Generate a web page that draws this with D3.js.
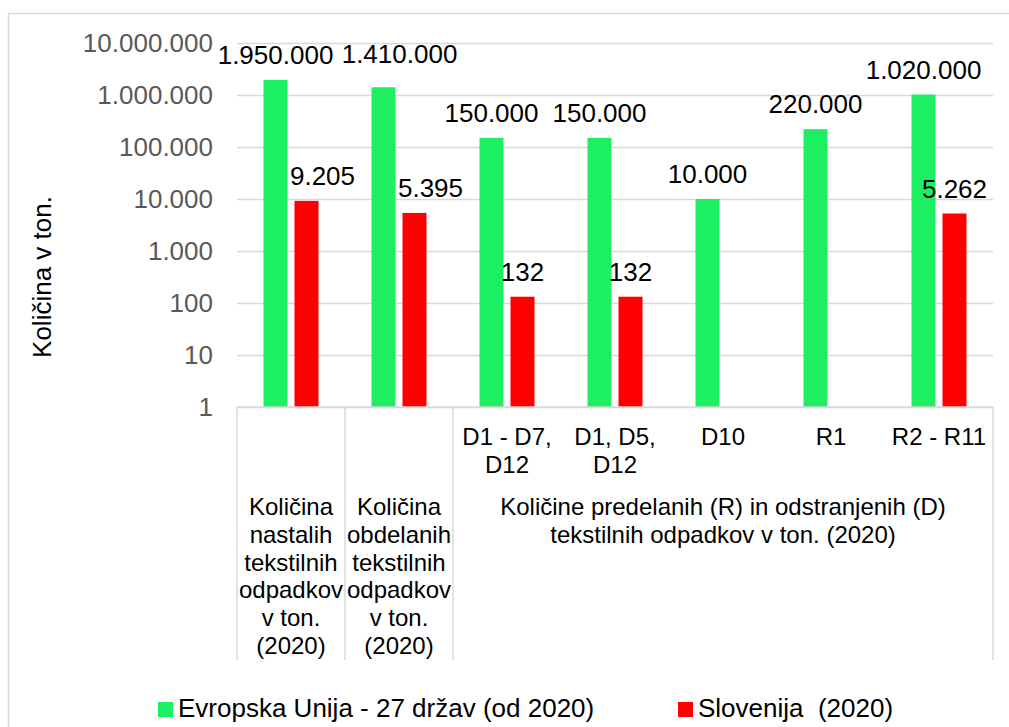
<!DOCTYPE html>
<html lang="sl">
<head>
<meta charset="UTF-8">
<title>Tekstilni odpadki</title>
<script src="https://d3js.org/d3.v7.min.js"></script>
<style>
  html, body { margin: 0; padding: 0; background: #fff; }
  svg { display: block; font-family: "Liberation Sans", Arial, sans-serif; }
</style>
</head>
<body>
<div id="chart"></div>
<script>
// data
var categories = ["c0", "c1", "D1 - D7,|D12", "D1, D5,|D12", "D10", "R1", "R2 - R11"];
var subLabels = ["", "", "D1 - D7,|D12", "D1, D5,|D12", "D10", "R1", "R2 - R11"];
var groups = [
  { from: 0, to: 0, lines: ["Količina", "nastalih", "tekstilnih", "odpadkov", "v ton.", "(2020)"] },
  { from: 1, to: 1, lines: ["Količina", "obdelanih", "tekstilnih", "odpadkov", "v ton.", "(2020)"] },
  { from: 2, to: 6, lines: ["Količine predelanih (R) in odstranjenih (D)", "tekstilnih odpadkov v ton. (2020)"] }
];
var euValues = [1950000, 1410000, 150000, 150000, 10000, 220000, 1020000];
var siValues = [9205, 5395, 132, 132, null, null, 5262];
var seriesNames = ["Evropska Unija - 27 držav (od 2020)", "Slovenija  (2020)"];
var tickValues = [1, 10, 100, 1000, 10000, 100000, 1000000, 10000000];

var W = 1009, H = 727;
var pLeft = 237, pRight = 993, pTop = 43, pBottom = 407;
var catBottom = 660;
var green = "#1cf062", red = "#ff0000", grid = "#d9d9d9";

var loc = d3.formatLocale({ decimal: ",", thousands: ".", grouping: [3], currency: ["", " €"] });
var fmt = loc.format(",d");

var svg = d3.select("#chart").append("svg")
  .attr("width", W).attr("height", H);

// outer chart border
svg.append("rect")
  .attr("x", 8.5).attr("y", 13.5)
  .attr("width", W + 10).attr("height", H + 10)
  .attr("fill", "none").attr("stroke", grid).attr("stroke-width", 1.5);

var y = d3.scaleLog().domain([1, 1e7]).range([pBottom, pTop]);
var x = d3.scaleBand().domain(d3.range(categories.length)).range([pLeft, pRight]);
var xs = d3.scaleBand().domain(["eu", "si"]).range([0, x.bandwidth()])
  .paddingInner(7 / 31).paddingOuter(0.855);

// gridlines
var gridAxis = d3.axisLeft(y).tickValues(tickValues).tickSize(-(pRight - pLeft)).tickFormat("");
var g = svg.append("g").attr("transform", "translate(" + pLeft + ",0)").call(gridAxis);
g.select(".domain").remove();
g.selectAll("line").attr("stroke", grid).attr("stroke-width", 1.5);

// y tick labels
var yAxis = d3.axisLeft(y).tickValues(tickValues).tickSize(0).tickPadding(0).tickFormat(fmt);
var ya = svg.append("g").attr("transform", "translate(213,0)").call(yAxis);
ya.select(".domain").remove();
ya.selectAll("text")
  .attr("font-size", 26).attr("fill", "#595959")
  .attr("font-family", "Liberation Sans, Arial, sans-serif");

// y title
svg.append("text")
  .attr("transform", "translate(51,277) rotate(-90)")
  .attr("text-anchor", "middle")
  .attr("font-size", 26).attr("fill", "#000")
  .text("Količina v ton.");

// bars
var rows = categories.map(function(c, i) {
  return [{ key: "eu", i: i, v: euValues[i] }, { key: "si", i: i, v: siValues[i] }];
});
// labels moved by hand in the original
var labelShift = { "eu1": [16, -8], "si0": [16, 0], "si1": [16, 0] };

var cat = svg.selectAll(".cat").data(rows).enter().append("g")
  .attr("transform", function(d, i) { return "translate(" + x(i) + ",0)"; });

cat.selectAll("rect").data(function(d) { return d.filter(function(e) { return e.v != null; }); })
  .enter().append("rect")
  .attr("x", function(d) { return xs(d.key); })
  .attr("width", xs.bandwidth())
  .attr("y", function(d) { return y(d.v); })
  .attr("height", function(d) { return pBottom - y(d.v); })
  .attr("fill", function(d) { return d.key == "eu" ? green : red; });

cat.selectAll("text.val").data(function(d) { return d.filter(function(e) { return e.v != null; }); })
  .enter().append("text")
  .attr("class", "val")
  .attr("x", function(d) {
    var s = labelShift[d.key + d.i] || [0, 0];
    return xs(d.key) + xs.bandwidth() / 2 + s[0];
  })
  .attr("y", function(d) {
    var s = labelShift[d.key + d.i] || [0, 0];
    return y(d.v) - 16 + s[1];
  })
  .attr("text-anchor", "middle")
  .attr("font-size", 26).attr("fill", "#000")
  .text(function(d) { return fmt(d.v); });

// category axis lines
svg.append("line")
  .attr("x1", pLeft).attr("x2", pRight).attr("y1", pBottom).attr("y2", pBottom)
  .attr("stroke", grid).attr("stroke-width", 1.5);
var sepX = [pLeft].concat(groups.map(function(gr) { return x(gr.to) + x.bandwidth(); }));
svg.selectAll(".sep").data(sepX).enter().append("line")
  .attr("x1", function(d) { return d; }).attr("x2", function(d) { return d; })
  .attr("y1", pBottom).attr("y2", catBottom)
  .attr("stroke", grid).attr("stroke-width", 1.5);

// sub-category labels
subLabels.forEach(function(lab, i) {
  if (!lab) return;
  var t = svg.append("text")
    .attr("text-anchor", "middle")
    .attr("font-size", 24).attr("fill", "#000");
  lab.split("|").forEach(function(line, k) {
    t.append("tspan").attr("x", x(i) + x.bandwidth() / 2).attr("y", 445 + k * 27.5).text(line);
  });
});

// group labels
groups.forEach(function(gr) {
  var cx = (x(gr.from) + x(gr.to) + x.bandwidth()) / 2;
  var t = svg.append("text")
    .attr("text-anchor", "middle")
    .attr("font-size", 24).attr("fill", "#000");
  gr.lines.forEach(function(line, k) {
    t.append("tspan").attr("x", cx).attr("y", 515 + k * 27.8).text(line);
  });
});

// legend
var legX = [158, 678];
var leg = svg.selectAll(".leg").data(seriesNames).enter().append("g")
  .attr("transform", function(d, i) { return "translate(" + legX[i] + ",702)"; });
leg.append("rect").attr("width", 15).attr("height", 15)
  .attr("fill", function(d, i) { return i == 0 ? green : red; });
leg.append("text")
  .attr("x", 20).attr("y", 15)
  .attr("font-size", 26).attr("fill", "#000")
  .attr("xml:space", "preserve").style("white-space", "pre")
  .text(function(d) { return d; });
</script>
</body>
</html>
